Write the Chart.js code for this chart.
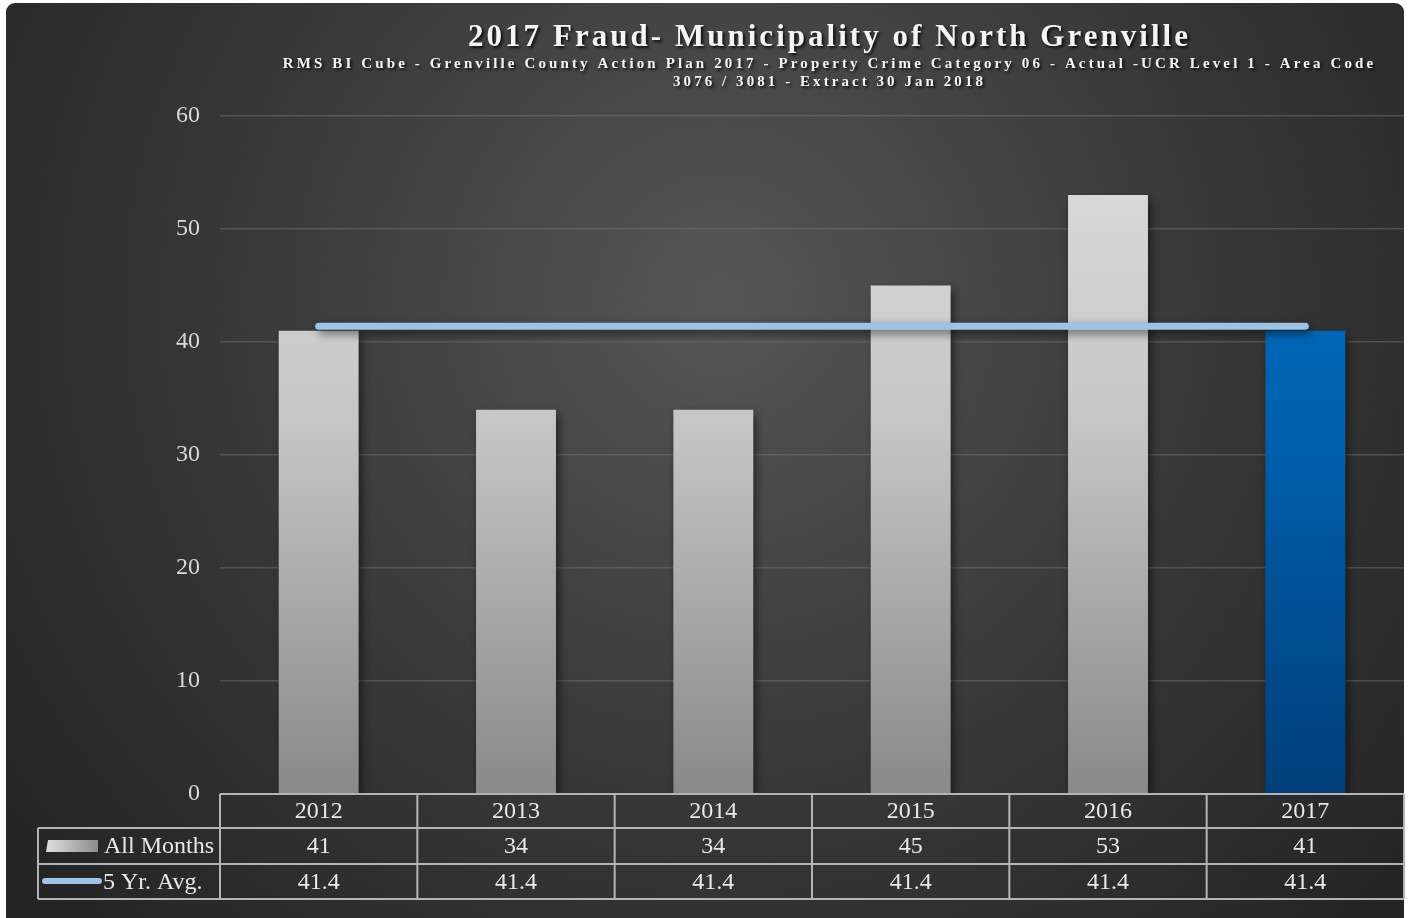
<!DOCTYPE html>
<html>
<head>
<meta charset="utf-8">
<script src="https://cdn.jsdelivr.net/npm/chart.js@4.4.0/dist/chart.umd.min.js"></script>
<style>
  html, body { margin: 0; padding: 0; background: #fff; }
  #wrap { width: 1410px; height: 918px; position: relative; }
</style>
</head>
<body>
<div id="wrap"><canvas id="fraudChart"></canvas></div>
<script>
const years = ['2012', '2013', '2014', '2015', '2016', '2017'];
const allMonths = [41, 34, 34, 45, 53, 41];
const fiveYrAvg = [41.4, 41.4, 41.4, 41.4, 41.4, 41.4];
const seriesNames = ['All Months', '5 Yr. Avg.'];

const titleText = '2017 Fraud- Municipality of North Grenville';
const subLine1 = 'RMS BI Cube - Grenville County Action Plan 2017 - Property Crime Category 06 - Actual -UCR Level 1 - Area Code';
const subLine2 = '3076 / 3081 - Extract 30 Jan 2018';

const serif = '"Liberation Serif", "Times New Roman", serif';

function greyGrad(ctx, area) {
  const g = ctx.createLinearGradient(0, area.top, 0, area.bottom);
  g.addColorStop(0, '#dedede');
  g.addColorStop(0.45, '#c6c6c6');
  g.addColorStop(1, '#898989');
  return g;
}
function blueGrad(ctx, area) {
  const g = ctx.createLinearGradient(0, area.top, 0, area.bottom);
  g.addColorStop(0, '#0073cc');
  g.addColorStop(0.5, '#005eaa');
  g.addColorStop(1, '#003e7a');
  return g;
}

// draw text spread to a given width, like the stretched Office title
function spreadText(ctx, text, cx, cy, width) {
  ctx.letterSpacing = '0px';
  const w = ctx.measureText(text).width;
  const sp = (width - w) / text.length;
  ctx.letterSpacing = sp.toFixed(2) + 'px';
  ctx.fillText(text, cx + sp / 2, cy);
}

const background = {
  id: 'background',
  beforeDraw(chart) {
    const ctx = chart.ctx;
    ctx.save();
    ctx.fillStyle = '#ffffff';
    ctx.fillRect(0, 0, chart.width, chart.height);
    const g = ctx.createRadialGradient(720, 300, 20, 720, 300, 900);
    g.addColorStop(0, '#545454');
    g.addColorStop(0.55, '#373737');
    g.addColorStop(1, '#242424');
    ctx.fillStyle = g;
    ctx.beginPath();
    ctx.roundRect(6, 3, 1398, 918, [9, 9, 0, 0]);
    ctx.fill();

    // titles
    ctx.fillStyle = '#f4f4f4';
    ctx.shadowColor = 'rgba(0,0,0,0.8)';
    ctx.shadowBlur = 3;
    ctx.shadowOffsetX = 2;
    ctx.shadowOffsetY = 2;
    ctx.textAlign = 'center';
    ctx.textBaseline = 'middle';
    ctx.font = 'bold 31px ' + serif;
    spreadText(ctx, titleText, 828, 38, 723);
    ctx.font = 'bold 15px ' + serif;
    spreadText(ctx, subLine1, 828, 64, 1093);
    spreadText(ctx, subLine2, 828, 82, 313);
    ctx.restore();
  }
};

const shadows = {
  id: 'shadows',
  beforeDatasetDraw(chart, args) {
    const ctx = chart.ctx;
    ctx.save();
    ctx.shadowColor = 'rgba(0,0,0,0.55)';
    ctx.shadowBlur = 9;
    ctx.shadowOffsetX = 3;
    ctx.shadowOffsetY = 4;
  },
  afterDatasetDraw(chart) {
    chart.ctx.restore();
  }
};

const dataTable = {
  id: 'dataTable',
  afterDraw(chart) {
    const ctx = chart.ctx;
    const area = chart.chartArea;
    const x = chart.scales.x;
    const step = (area.right - area.left) / years.length;
    const left = 38;
    const rows = [area.bottom, 828, 864, 899];
    ctx.save();
    ctx.strokeStyle = '#b4b4b4';
    ctx.lineWidth = 2;
    ctx.beginPath();
    ctx.moveTo(area.left, rows[0]); ctx.lineTo(area.right, rows[0]);
    for (let i = 1; i < rows.length; i++) {
      ctx.moveTo(left, rows[i]); ctx.lineTo(area.right, rows[i]);
    }
    ctx.moveTo(left, rows[1]); ctx.lineTo(left, rows[3]);
    for (let i = 0; i <= years.length; i++) {
      const vx = area.left + i * step;
      ctx.moveTo(vx, rows[0]); ctx.lineTo(vx, rows[3]);
    }
    ctx.stroke();

    ctx.fillStyle = '#e8e8e8';
    ctx.font = '24px ' + serif;
    ctx.textAlign = 'center';
    ctx.textBaseline = 'middle';
    years.forEach((yr, i) => {
      const cx = x.getPixelForValue(i);
      ctx.fillText(yr, cx, (rows[0] + rows[1]) / 2 + 1);
      ctx.fillText(String(allMonths[i]), cx, (rows[1] + rows[2]) / 2 + 1);
      ctx.fillText(fiveYrAvg[i].toFixed(1), cx, (rows[2] + rows[3]) / 2 + 1);
    });

    // legend keys
    ctx.textAlign = 'left';
    ctx.fillText(seriesNames[0], 104, (rows[1] + rows[2]) / 2 + 1);
    ctx.fillText(seriesNames[1], 103, (rows[2] + rows[3]) / 2 + 1);
    const kg = ctx.createLinearGradient(46, 0, 98, 0);
    kg.addColorStop(0, '#e0e0e0');
    kg.addColorStop(1, '#8c8c8c');
    ctx.fillStyle = kg;
    ctx.beginPath();
    ctx.moveTo(48, 840); ctx.lineTo(98, 840); ctx.lineTo(98, 852); ctx.lineTo(46, 852);
    ctx.closePath();
    ctx.fill();
    ctx.strokeStyle = '#9dc3e6';
    ctx.lineWidth = 6;
    ctx.lineCap = 'round';
    ctx.beginPath();
    ctx.moveTo(45, 881); ctx.lineTo(99, 881);
    ctx.stroke();
    ctx.restore();
  }
};

new Chart(document.getElementById('fraudChart'), {
  type: 'bar',
  data: {
    labels: years,
    datasets: [
      {
        type: 'line',
        label: seriesNames[1],
        data: fiveYrAvg,
        borderColor: '#9dc3e6',
        borderWidth: 7,
        borderCapStyle: 'round',
        pointRadius: 0,
        order: 0
      },
      {
        label: seriesNames[0],
        data: allMonths,
        backgroundColor: (c) => {
          const area = c.chart.chartArea;
          if (!area) return '#c8c8c8';
          return c.dataIndex === years.length - 1 ? blueGrad(c.chart.ctx, area) : greyGrad(c.chart.ctx, area);
        },
        borderWidth: 0,
        categoryPercentage: 1,
        barPercentage: 0.405,
        order: 1
      }
    ]
  },
  options: {
    responsive: true,
    maintainAspectRatio: false,
    animation: false,
    layout: { padding: { top: 116, bottom: 124, left: 0, right: 6 } },
    plugins: {
      legend: { display: false },
      title: { display: false },
      tooltip: { enabled: false }
    },
    scales: {
      x: { display: false },
      y: {
        min: 0,
        max: 60,
        ticks: {
          stepSize: 10,
          color: '#d9d9d9',
          padding: 20,
          font: { family: serif, size: 24 }
        },
        border: { display: false },
        grid: {
          color: (c) => c.tick.value === 0 ? 'rgba(0,0,0,0)' : 'rgba(120,120,120,0.45)',
          lineWidth: 1.5,
          drawTicks: false
        },
        afterFit(scale) { scale.width = 220; }
      }
    }
  },
  plugins: [background, shadows, dataTable]
});
</script>
</body>
</html>
